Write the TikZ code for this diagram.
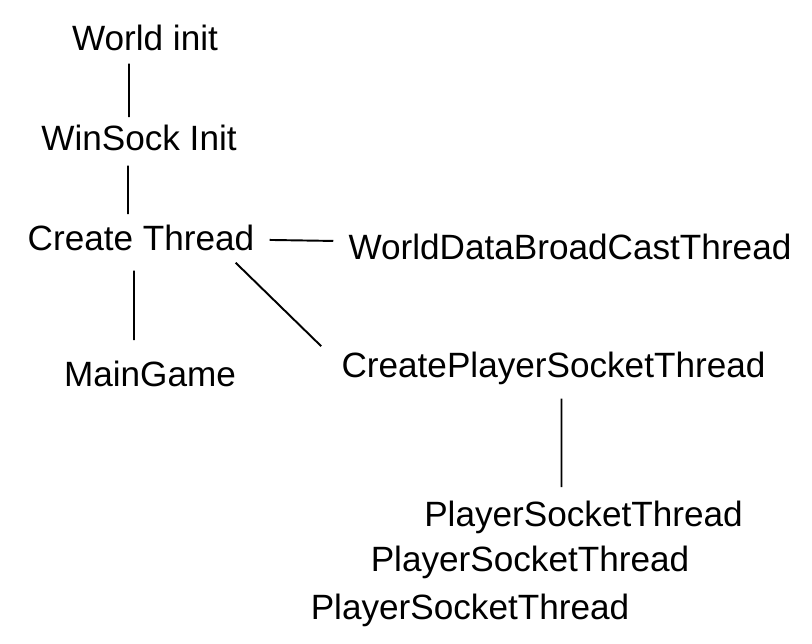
\documentclass[tikz,border=0pt]{standalone}
\usepackage{fontspec}
\setmainfont{Liberation Sans}
\usetikzlibrary{positioning}

\begin{document}
\begin{tikzpicture}[
    lbl/.style={inner sep=0pt, anchor=base, font=\fontsize{20}{24}\selectfont},
    link/.style={line width=1.1pt}
]
    \useasboundingbox (0,0) rectangle (16.24,-12.86);
    \node[lbl] (worldinit) at (2.90,-1.00) {World init};
    \node[lbl] (winsock) at (2.78,-3.00) {WinSock Init};
    \node[lbl] (create) at (2.82,-5.00) {Create Thread};
    \node[lbl] (broadcast) at (11.40,-5.18) {WorldDataBroadCastThread};
    \node[lbl] (maingame) at (3.00,-7.72) {MainGame};
    \node[lbl] (createpst) at (11.07,-7.54) {CreatePlayerSocketThread};
    \node[lbl] (pst1) at (11.67,-10.52) {PlayerSocketThread};
    \node[lbl] (pst2) at (10.60,-11.42) {PlayerSocketThread};
    \node[lbl] (pst3) at (9.40,-12.38) {PlayerSocketThread};

    \draw[link] ([xshift=-0.32cm, yshift=-0.26cm]worldinit.south) -- ([xshift=-0.20cm, yshift=0.14cm]winsock.north);
    \draw[link] ([xshift=-0.22cm, yshift=-0.30cm]winsock.south) -- ([xshift=-0.26cm, yshift=0.20cm]create.north);
    \draw[link] ([xshift=-0.14cm, yshift=-0.40cm]create.south) -- ([xshift=-0.32cm, yshift=0.40cm]maingame.north);
    \draw[link] ([xshift=0.30cm, yshift=-0.05cm]create.east) -- ([xshift=-0.30cm, yshift=0.11cm]broadcast.west);
    \draw[link] ([xshift=-0.38cm, yshift=-0.24cm]create.south east) -- ([xshift=-0.40cm, yshift=0.10cm]createpst.north west);
    \draw[link] ([xshift=0.16cm, yshift=-0.28cm]createpst.south) -- ([xshift=-0.44cm, yshift=0.26cm]pst1.north);
\end{tikzpicture}
\end{document}
